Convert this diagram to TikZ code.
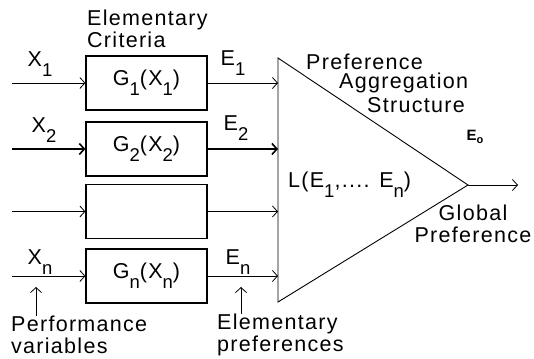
\documentclass[tikz,border=0pt]{standalone}
\usepackage{fontspec}
\setmainfont[LetterSpace=6]{Liberation Sans}
\usetikzlibrary{arrows.meta}
\newcommand\sbx[1]{\raisebox{-0.45em}{\fontsize{18.5}{18.5}\selectfont #1}}
\tikzset{
  lbl/.style={inner sep=0pt, font=\fontsize{21.5}{22}\selectfont},
  crit/.style={draw, line width=1.2pt, minimum width=121pt, minimum height=54pt, inner sep=0pt, font=\fontsize{21.5}{22}\selectfont},
  arr/.style={line width=0.8pt, -{Straight Barb[length=5pt,width=11pt]}},
  thk/.style={line width=1.6pt},
}
\begin{document}
\begin{tikzpicture}[x=1pt,y=-1pt]
\useasboundingbox (0,0) rectangle (534,358);
% boxes
\node[crit] (b1) at (146.5,83) {G\sbx{1}(X\sbx{1})};
\node[crit] (b2) at (146.5,149) {G\sbx{2}(X\sbx{2})};
\node[crit] (b3) at (146.5,211.5) {};
\node[crit] (bn) at (146.5,276) {G\sbx{n}(X\sbx{n})};
% triangle
\coordinate (tt) at (278,58);
\coordinate (tb) at (278,302);
\coordinate (ap) at (468,185);
\draw[line width=0.9pt] (tt) -- (tb) -- (ap) -- cycle;
% inputs
\coordinate (i1) at (12,83);
\coordinate (i2) at (12,149);
\coordinate (i3) at (12,211.5);
\coordinate (in) at (12,276);
\draw[arr] (i1) -- (b1.west);
\draw[arr,thk] (i2) -- (b2.west);
\draw[arr] (i3) -- (b3.west);
\draw[arr] (in) -- (bn.west);
% outputs
\draw[arr] (b1.east) -- (b1.east -| tt);
\draw[arr,thk] (b2.east) -- (b2.east -| tt);
\draw[arr] (b3.east) -- (b3.east -| tt);
\draw[arr] (bn.east) -- (bn.east -| tt);
\coordinate (go) at (518,185);
\draw[arr] (ap) -- (go);
% labels
\node[lbl] (x1) at (40,64) {X\sbx{1}};
\node[lbl] (x2) at (44,130) {X\sbx{2}};
\node[lbl] (xn) at (40,262) {X\sbx{n}};
\node[lbl] (e1) at (233,63) {E\sbx{1}};
\node[lbl] (e2) at (236,128) {E\sbx{2}};
\node[lbl] (en) at (238,262) {E\sbx{n}};
\node[lbl, anchor=west, align=left] (crt) at (87,29) {Elementary\\Criteria};
\node[lbl, anchor=west] (p1) at (306,62) {Preference};
\node[lbl, anchor=west] (p2) at (339,83) {Aggregation};
\node[lbl, anchor=west] (p3) at (367,105) {Structure};
\node[inner sep=0pt, font=\bfseries\fontsize{15}{15}\selectfont] (e0) at (475,137) {E\raisebox{-0.15em}{\fontsize{11}{11}\selectfont o}};
\node[lbl, anchor=west] (L) at (288,185) {L(E\sbx{1},.... E\sbx{n})};
\node[lbl, align=center] (gp) at (473,224) {Global\\Preference};
\node[lbl, anchor=west, align=left] (pv) at (11,335) {Performance\\variables};
\node[lbl, anchor=west, align=left] (ep) at (217,335) {Elementary\\preferences};
% pointer arrows
\draw[arr] (pv.north -| 36,0) -- (36,287);
\draw[arr] (ep.north -| 241,0) -- (241,287);
\end{tikzpicture}
\end{document}
